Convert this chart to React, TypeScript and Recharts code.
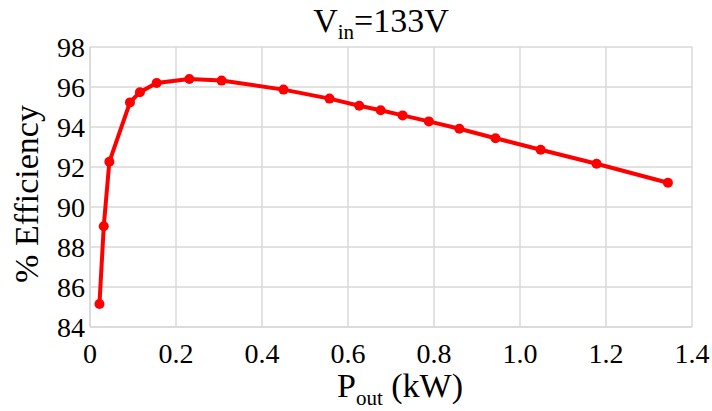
import { CartesianGrid, Line, LineChart, XAxis, YAxis } from 'recharts';

const pout = [
  0.022, 0.032, 0.045, 0.093, 0.116, 0.155, 0.231, 0.306, 0.45, 0.557, 0.626, 0.676, 0.727,
  0.788, 0.859, 0.943, 1.048, 1.178, 1.344,
];
const efficiency = [
  85.15, 89.04, 92.26, 95.23, 95.74, 96.2, 96.4, 96.32, 95.87, 95.42, 95.06, 94.84, 94.58,
  94.28, 93.91, 93.44, 92.86, 92.16, 91.21,
];
const xTicks = [0, 0.2, 0.4, 0.6, 0.8, 1.0, 1.2, 1.4];
const yTicks = [84, 86, 88, 90, 92, 94, 96, 98];

// no serif face in the sandbox, this falls back to whatever is there
const FONT = "'Liberation Serif', 'Times New Roman', 'DejaVu Serif', serif";
const GRID = '#d9d9d9';

const data = pout.map((p, i) => ({ pout: p, eff: efficiency[i] }));

const tickStyle = { fill: '#000', fontSize: 28, fontFamily: FONT };

export default function App() {
  return (
    <div style={{ position: 'absolute', left: 0, top: 0, background: '#fff', fontFamily: FONT }}>
      <LineChart
        width={712}
        height={411}
        data={data}
        margin={{ top: 47, right: 20, left: 0, bottom: 0 }}
      >
        <CartesianGrid stroke={GRID} strokeWidth={1.5} />
        <XAxis
          type="number"
          dataKey="pout"
          domain={[0, 1.4]}
          ticks={xTicks}
          interval={0}
          height={84}
          tickLine={false}
          tickSize={6}
          tickMargin={10}
          axisLine={{ stroke: GRID, strokeWidth: 1.5 }}
          tick={tickStyle}
          tickFormatter={(v: number) => (v === 0 ? '0' : v.toFixed(1))}
        />
        <YAxis
          type="number"
          domain={[84, 98]}
          ticks={yTicks}
          interval={0}
          width={90}
          tickLine={false}
          tickSize={3}
          tickMargin={2}
          axisLine={{ stroke: GRID, strokeWidth: 1.5 }}
          tick={tickStyle}
        />
        <Line
          type="linear"
          dataKey="eff"
          stroke="#ff0000"
          strokeWidth={4}
          dot={{ r: 5, fill: '#ff0000', stroke: '#ff0000', strokeWidth: 0 }}
          isAnimationActive={false}
        />
        <text x={381} y={32} textAnchor="middle" style={{ fontFamily: FONT }} fontSize={34} fill="#000">
          V
          <tspan dy={7} fontSize={21}>
            in
          </tspan>
          <tspan dy={-7}>=133V</tspan>
        </text>
        <text x={400} y={397} textAnchor="middle" style={{ fontFamily: FONT }} fontSize={34} fill="#000">
          P
          <tspan dy={8} fontSize={21}>
            out
          </tspan>
          <tspan dy={-8}> (kW)</tspan>
        </text>
        <text
          x={38}
          y={194}
          transform="rotate(-90 38 194)"
          textAnchor="middle"
          style={{ fontFamily: FONT }}
          fontSize={34}
          fill="#000"
        >
          % Efficiency
        </text>
      </LineChart>
    </div>
  );
}
